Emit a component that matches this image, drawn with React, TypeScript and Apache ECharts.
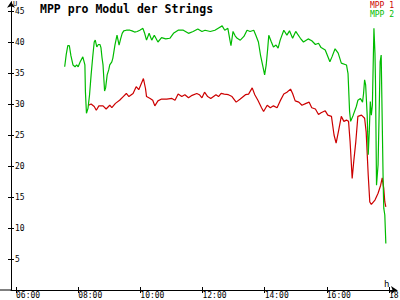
import React, { useEffect, useRef } from "react";
import * as echarts from "echarts";

const TITLE = "MPP pro Modul der Strings";
const SERIES_NAMES = ["MPP 1", "MPP 2"];
const COLORS = ["#cc0000", "#00bb00"];
const X_TICKS = [6, 8, 10, 12, 14, 16, 18];
const Y_TICKS = [5, 10, 15, 20, 25, 30, 35, 40, 45];

const mpp1Times = [
  "08:20", "08:25", "08:31", "08:35", "08:40", "08:48", "08:54", "09:01", "09:05", "09:12",
  "09:20", "09:27", "09:33", "09:38", "09:46", "09:52", "09:57", "10:01", "10:06", "10:10",
  "10:12", "10:19", "10:24", "10:28", "10:34", "10:41", "10:51", "11:01", "11:07", "11:13",
  "11:20", "11:26", "11:33", "11:40", "11:49", "11:54", "11:59", "12:04", "12:10", "12:16",
  "12:26", "12:31", "12:36", "12:42", "12:50", "12:57", "13:05", "13:13", "13:23", "13:29",
  "13:36", "13:41", "13:47", "13:54", "13:58", "14:05", "14:11", "14:17", "14:24", "14:30",
  "14:37", "14:43", "14:50", "14:54", "14:59", "15:06", "15:12", "15:20", "15:26", "15:31",
  "15:38", "15:44", "15:49", "15:57", "16:02", "16:09", "16:14", "16:18", "16:23", "16:28",
  "16:33", "16:38", "16:42", "16:45", "16:49", "16:52", "16:56", "17:00", "17:07", "17:13",
  "17:16", "17:20", "17:23", "17:26", "17:33", "17:39", "17:44", "17:47", "17:50", "17:52",
  "17:54"
];
const mpp1Values = [
  29.8, 30.0, 29.6, 29.0, 29.7, 29.7, 29.2, 29.8, 29.4, 30.1,
  30.6, 31.2, 31.7, 31.2, 31.7, 32.8, 32.3, 33.1, 34.1, 32.5,
  31.2, 30.9, 30.6, 29.7, 30.5, 30.8, 30.8, 30.9, 30.6, 31.6,
  31.2, 31.5, 31.0, 31.4, 31.7, 31.5, 31.0, 31.9, 31.2, 30.9,
  31.5, 31.2, 31.7, 31.6, 31.5, 31.2, 30.3, 30.8, 31.5, 31.6,
  32.6, 31.5, 30.6, 29.4, 28.8, 29.8, 29.4, 29.7, 29.4, 30.5,
  31.6, 31.9, 32.4, 31.7, 30.5, 30.3, 29.8, 30.1, 30.3, 29.4,
  29.2, 28.3, 28.6, 28.9, 28.2, 28.0, 25.0, 23.7, 25.8, 28.0,
  27.2, 27.4, 27.2, 23.9, 18.0, 20.7, 23.9, 28.0, 28.2, 27.7,
  25.5, 18.5, 14.2, 13.8, 14.5, 15.6, 16.9, 18.1, 16.4, 14.2,
  13.4
];

const mpp2Times = [
  "07:34", "07:37", "07:40", "07:43", "07:46", "07:50", "07:54", "07:57", "08:00", "08:04",
  "08:09", "08:13", "08:14", "08:16", "08:19", "08:22", "08:25", "08:28", "08:31", "08:33",
  "08:36", "08:39", "08:42", "08:44", "08:46", "08:48", "08:50", "08:51", "08:53", "08:56",
  "08:59", "09:01", "09:05", "09:07", "09:11", "09:15", "09:19", "09:22", "09:25", "09:28",
  "09:33", "09:40", "09:44", "09:49", "09:54", "09:59", "10:05", "10:08", "10:12", "10:17",
  "10:22", "10:27", "10:34", "10:41", "10:49", "10:57", "11:04", "11:13", "11:23", "11:33",
  "11:42", "11:51", "11:59", "12:05", "12:15", "12:24", "12:32", "12:38", "12:43", "12:49",
  "12:53", "12:55", "12:59", "13:03", "13:07", "13:13", "13:20", "13:26", "13:32", "13:39",
  "13:43", "13:48", "13:52", "13:56", "14:00", "14:03", "14:06", "14:08", "14:13", "14:17",
  "14:22", "14:26", "14:30", "14:37", "14:43", "14:48", "14:54", "15:00", "15:09", "15:15",
  "15:24", "15:31", "15:38", "15:44", "15:49", "15:57", "16:06", "16:10", "16:16", "16:22",
  "16:28", "16:38", "16:41", "16:44", "16:46", "16:51", "16:57", "17:00", "17:05", "17:09",
  "17:11", "17:13", "17:15", "17:18", "17:20", "17:22", "17:24", "17:26", "17:28", "17:31",
  "17:33", "17:34", "17:36", "17:39", "17:41", "17:43", "17:45", "17:49", "17:50", "17:52",
  "17:54"
];
const mpp2Values = [
  36.0, 38.0, 39.4, 39.4, 37.8, 36.3, 36.0, 36.3, 36.0, 36.8,
  37.6, 36.3, 32.0, 28.5, 29.3, 31.5, 34.7, 37.5, 40.0, 40.3,
  39.2, 39.6, 39.6, 39.1, 37.5, 36.3, 33.5, 32.1, 32.6, 34.7,
  35.5, 36.3, 36.8, 37.4, 39.5, 41.1, 39.5, 40.5, 41.4, 41.8,
  41.9, 41.9, 41.8, 41.6, 41.7, 41.9, 42.2, 41.5, 40.3, 41.4,
  40.3, 41.1, 40.0, 40.7, 40.5, 40.6, 41.4, 41.9, 41.9, 41.4,
  41.7, 42.1, 41.7, 41.9, 41.7, 41.9, 42.3, 42.6, 41.9, 42.2,
  40.3, 39.4, 41.7, 41.0, 40.6, 40.3, 40.9, 41.9, 41.7, 41.9,
  41.1, 40.0, 37.9, 36.3, 34.7, 36.3, 39.0, 41.1, 40.0, 39.2,
  39.5, 39.0, 40.3, 41.9, 41.1, 41.8, 40.6, 41.7, 40.6, 40.0,
  40.5, 40.2, 39.6, 39.8, 39.1, 38.7, 36.8, 37.6, 38.9, 38.2,
  36.6, 36.3, 34.9, 28.8, 27.2, 28.2, 29.6, 30.6, 30.9, 30.3,
  31.7, 33.9, 33.1, 28.2, 21.8, 25.5, 30.4, 28.2, 29.8, 42.2,
  38.2, 33.6, 16.9, 20.2, 28.2, 36.8, 37.9, 16.7, 13.2, 12.1,
  7.5
];

const toHours = (s: string) => {
  const [h, m] = s.split(":").map(Number);
  return h + m / 60;
};

const pairs = (times: string[], values: number[]) =>
  times.map((t, i) => [toHours(t), values[i]]);

const FONT = "DejaVu Sans Mono";

export default function App() {
  const ref = useRef<HTMLDivElement>(null);

  useEffect(() => {
    if (!ref.current) return;
    const chart = echarts.init(ref.current, null, { renderer: "svg" });
    const axisLineStyle = { color: "#000", width: 1 };
    chart.setOption({
      animation: false,
      backgroundColor: "#ffffff",
      grid: { left: 11, right: 3, top: 1.7, bottom: 10, containLabel: false, outerBoundsMode: "none" },
      xAxis: [
        {
          type: "value",
          min: 5.839,
          max: 18.259,
          splitLine: { show: false },
          axisLine: { show: true, lineStyle: axisLineStyle, symbol: ["none", "arrow"], symbolSize: [6, 6], onZero: false },
          axisTick: { show: true, length: 3, lineStyle: axisLineStyle, customValues: X_TICKS },
          axisLabel: {
            show: true,
            customValues: X_TICKS,
            formatter: (v: number) => (v < 10 ? "0" : "") + v + ":00",
            align: "left",
            alignMinLabel: "left",
            alignMaxLabel: "left",
            hideOverlap: false,
            margin: 1,
            fontFamily: FONT,
            fontSize: 8,
            color: "#000",
          },
        },
        {
          type: "value",
          position: "bottom",
          min: 5.839,
          max: 18.259,
          splitLine: { show: false },
          axisLine: { show: false, onZero: false },
          axisTick: { show: true, inside: true, length: 3, lineStyle: axisLineStyle, customValues: X_TICKS },
          axisLabel: { show: false },
        },
      ],
      yAxis: [
        {
          type: "value",
          min: 0,
          max: 46.5,
          splitLine: { show: false },
          axisLine: { show: true, lineStyle: axisLineStyle, symbol: ["none", "arrow"], symbolSize: [6, 6], onZero: false },
          axisTick: { show: true, length: 3, lineStyle: axisLineStyle, customValues: Y_TICKS },
          axisLabel: {
            show: true,
            inside: true,
            margin: 4,
            customValues: Y_TICKS,
            fontFamily: FONT,
            fontSize: 8,
            color: "#000",
          },
        },
        {
          type: "value",
          position: "left",
          min: 0,
          max: 46.5,
          splitLine: { show: false },
          axisLine: { show: false, onZero: false },
          axisTick: { show: true, inside: true, length: 3, lineStyle: axisLineStyle, customValues: Y_TICKS },
          axisLabel: { show: false },
        },
      ],
      series: [
        {
          name: SERIES_NAMES[0],
          type: "line",
          showSymbol: false,
          color: COLORS[0],
          lineStyle: { width: 1.2, color: COLORS[0] },
          data: pairs(mpp1Times, mpp1Values),
        },
        {
          name: SERIES_NAMES[1],
          type: "line",
          showSymbol: false,
          color: COLORS[1],
          lineStyle: { width: 1.2, color: COLORS[1] },
          data: pairs(mpp2Times, mpp2Values),
        },
      ],
      graphic: [
        { type: "line", shape: { x1: 0, y1: 290, x2: 11, y2: 290 }, style: { stroke: "#000", lineWidth: 1 } },
        {
          type: "text",
          left: 40,
          top: 3,
          style: { text: TITLE, fontFamily: FONT, fontSize: 11.5, fontWeight: "bold", fill: "#000" },
        },
        {
          type: "text",
          right: 6,
          top: 1,
          style: { text: SERIES_NAMES[0], fontFamily: FONT, fontSize: 8, fill: COLORS[0] },
        },
        {
          type: "text",
          right: 6,
          top: 10,
          style: { text: SERIES_NAMES[1], fontFamily: FONT, fontSize: 8, fill: COLORS[1] },
        },
        {
          type: "text",
          left: 13,
          top: 0,
          style: { text: "U", fontFamily: FONT, fontSize: 7, fill: "#000" },
        },
        {
          type: "text",
          left: 384,
          top: 279,
          style: { text: "h", fontFamily: FONT, fontSize: 9, fill: "#000" },
        },
      ],
    });
    return () => chart.dispose();
  }, []);

  return <div ref={ref} style={{ width: 400, height: 300, position: "absolute", left: 0, top: 0 }} />;
}
